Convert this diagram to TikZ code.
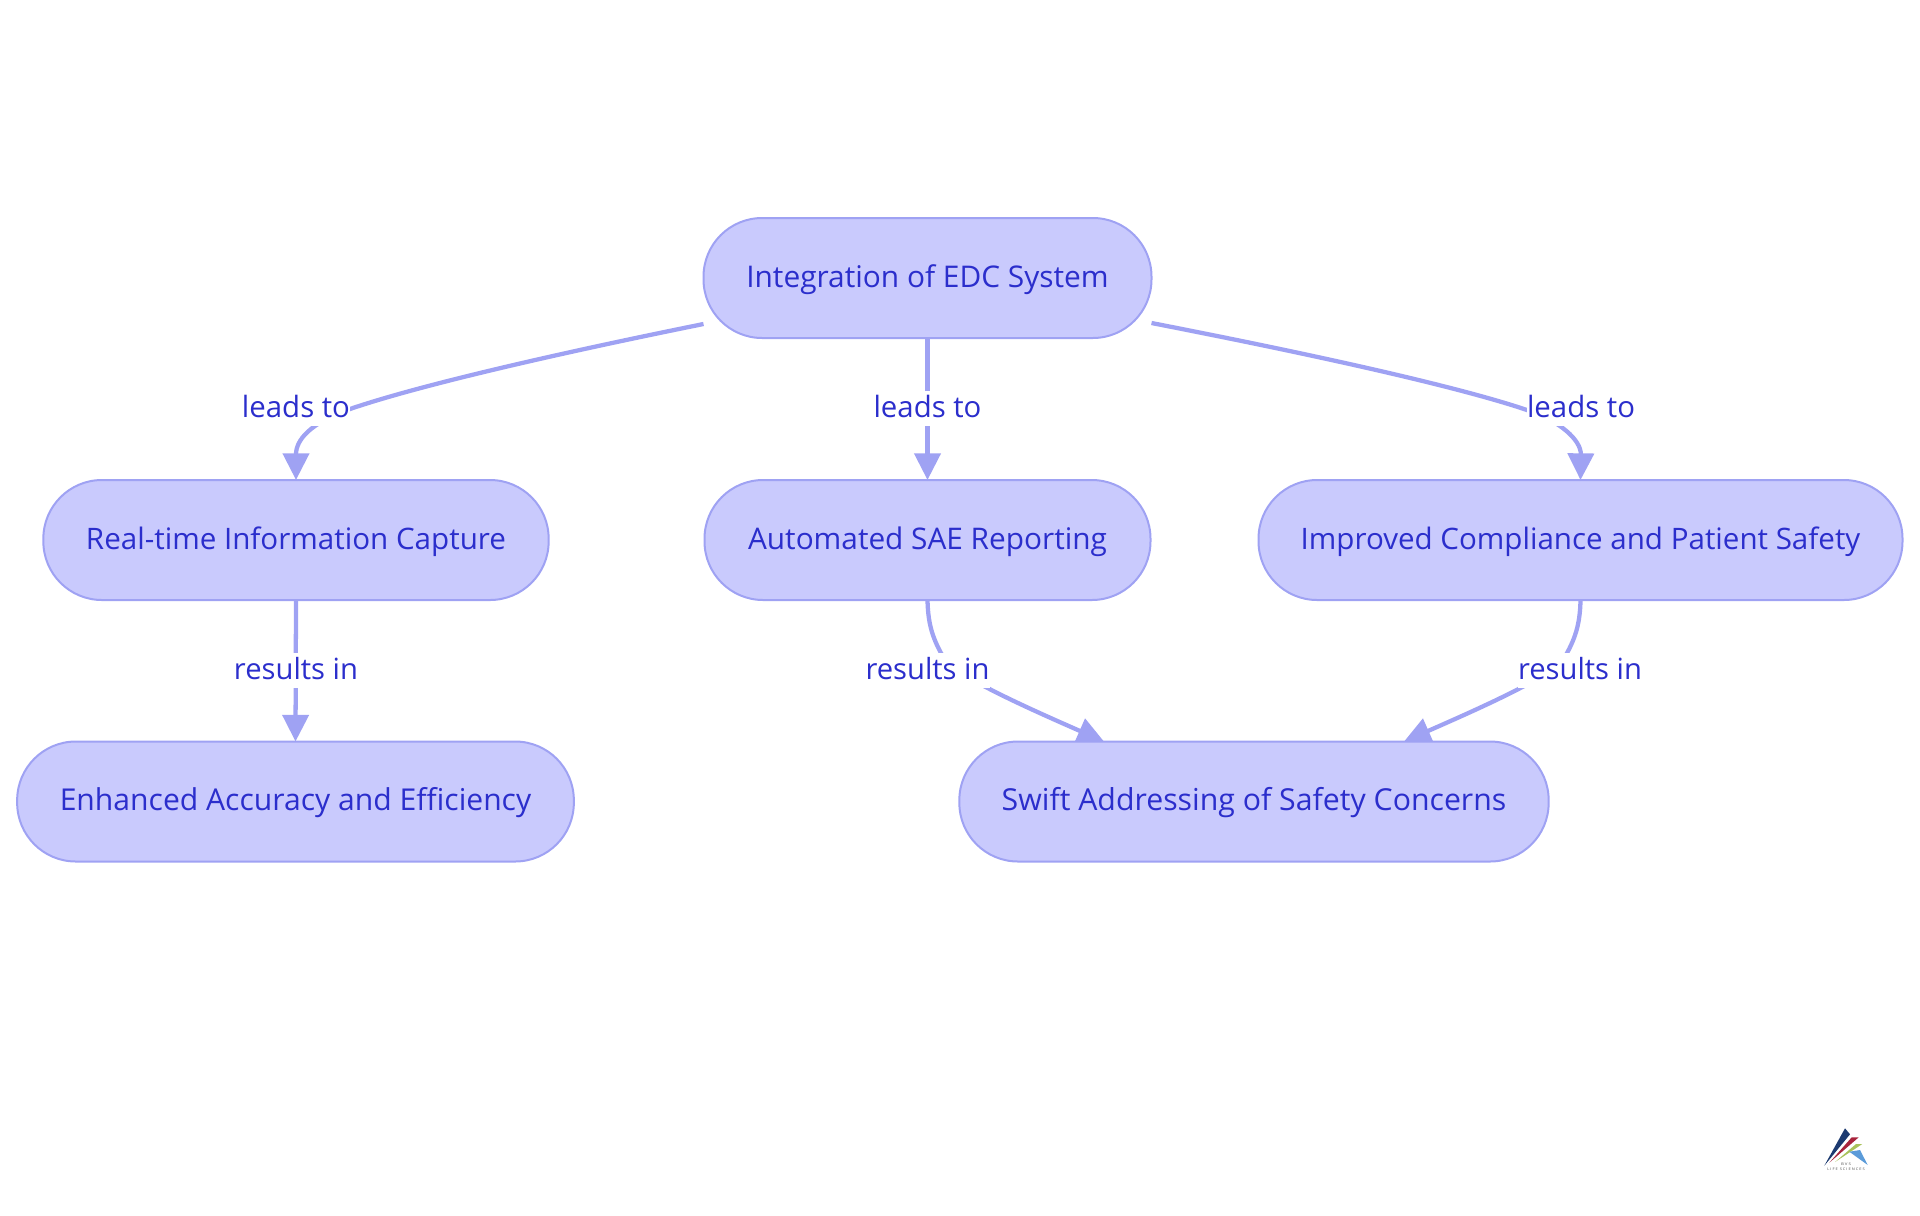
\documentclass[tikz,border=0pt]{standalone}
\usepackage{fontspec}
\usepackage{graphicx}
\setmainfont{Open Sans}
\usetikzlibrary{arrows.meta,calc}
\pgfdeclarelayer{edges}
\pgfsetlayers{edges,main}
\definecolor{boxfill}{HTML}{C9CAFD}
\definecolor{boxline}{HTML}{9FA2F3}
\definecolor{boxtext}{HTML}{2B2ECC}
\definecolor{logonavy}{HTML}{1C3A70}
\definecolor{logored}{HTML}{A8233C}
\definecolor{logogreen}{HTML}{A9C25A}
\definecolor{logoblue}{HTML}{5B9BD9}
\newcommand{\fitw}[2]{\resizebox{#1}{!}{#2}}
\tikzset{
  box/.style={draw=boxline,fill=boxfill,line width=1.5pt,outer sep=0pt,rounded corners=44pt,minimum height=90pt,inner sep=0pt,text height=19.4pt,text depth=5.6pt,text=boxtext,font=\fontsize{22.3}{26}\selectfont},
  lab/.style={fill=white,inner sep=0pt,text height=20pt,text depth=6.25pt,text=boxtext,font=\fontsize{22.3}{26}\selectfont},
  edge/.style={draw=boxline,line width=3.2pt,-{Triangle[length=20pt,width=19.5pt]}},
  logotext/.style={inner sep=0pt,font=\fontsize{2.6}{3}\selectfont\addfontfeature{LetterSpace=25},text=black!70}
}
\begin{document}
\begin{tikzpicture}[x=0.75pt,y=-0.75pt]
\useasboundingbox (0,0) rectangle (1920,1215);
\node[box,minimum width=336pt] (root) at (927.5,278) {\fitw{271.8pt}{Integration of EDC System}};
\node[box,minimum width=379pt] (rt) at (296,540) {\fitw{315pt}{Real-time Information Capture}};
\node[box,minimum width=334.5pt] (ae) at (927.5,540) {\fitw{269.1pt}{Automated SAE Reporting}};
\node[box,minimum width=483pt] (ic) at (1580.5,540) {\fitw{419.7pt}{Improved Compliance and Patient Safety}};
\node[box,minimum width=417.5pt] (ea) at (295.5,801.5) {\fitw{353.6pt}{Enhanced Accuracy and Efficiency}};
\node[box,minimum width=442pt] (sw) at (1254,801.5) {\fitw{378.4pt}{Swift Addressing of Safety Concerns}};
\coordinate (s1) at ($(root.west)+(0,46)$);
\coordinate (s3) at ($(root.east)+(0,45)$);
\coordinate (t5) at ($(sw.north)+(-150,0)$);
\coordinate (t6) at ($(sw.north)+(150,0)$);
\begin{pgfonlayer}{edges}
\draw[edge] (s1) .. controls (560,353) and (420,385) .. (350,409) .. controls (310,423) and (296,440) .. (rt.north);
\draw[edge] (root.south) -- (ae.north);
\draw[edge] (s3) .. controls (1290,350) and (1450,384) .. (1527,410) .. controls (1560,421) and (1581,440) .. (ic.north);
\draw[edge] (rt.south) -- (ea.north);
\draw[edge] (ae.south) .. controls (928,625) and (933,640) .. (945,660) .. controls (960,678) and (1030,709) .. (t5);
\draw[edge] (ic.south) .. controls (1580,625) and (1575,640) .. (1563,660) .. controls (1548,678) and (1478,709) .. (t6);
\end{pgfonlayer}
\node[lab] (l1) at (296,408.5) {\fitw{81pt}{leads to}};
\node[lab] (l2) at (927.5,408.5) {\fitw{81pt}{leads to}};
\node[lab] (l3) at (1581,408.5) {\fitw{81pt}{leads to}};
\node[lab] (l4) at (296,670.5) {\fitw{93pt}{results in}};
\node[lab] (l5) at (927.5,670.5) {\fitw{93pt}{results in}};
\node[lab] (l6) at (1580,670.5) {\fitw{93pt}{results in}};
% logo
\fill[logonavy] (1824.3,1165.7) -- (1845,1128.3) -- (1850,1134.3) -- cycle;
\fill[logored] (1829.3,1162.7) -- (1851.7,1137.3) -- (1858.7,1137.3) -- cycle;
\fill[logogreen] (1835,1162) -- (1856,1144) -- (1862.3,1144) -- cycle;
\fill[logoblue] (1849.3,1151.7) -- (1860,1150) -- (1867.7,1165) -- cycle;
\node[logotext] (lg1) at (1846,1164.3) {\resizebox{7.5pt}{1.9pt}{BVS}};
\node[logotext] (lg2) at (1846,1169) {\resizebox{28pt}{1.9pt}{LIFE SCIENCES}};
\end{tikzpicture}
\end{document}
